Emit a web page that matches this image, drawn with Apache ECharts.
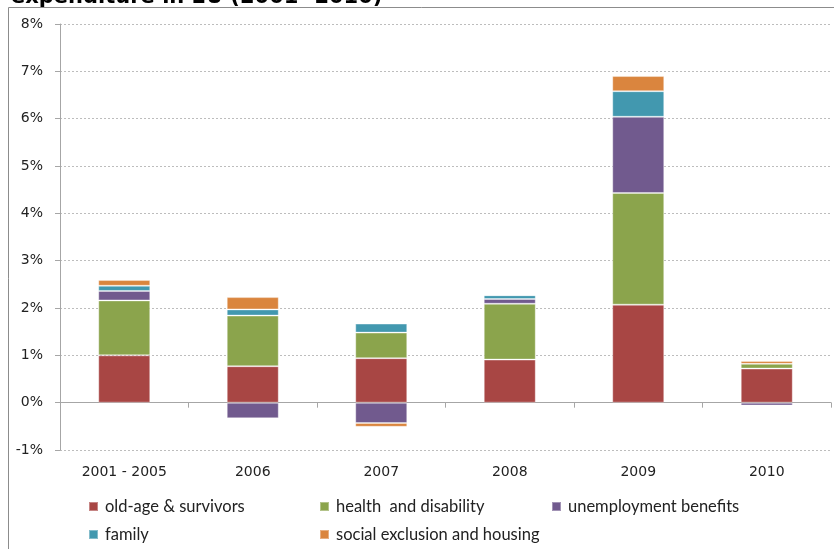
<!DOCTYPE html>
<html><head><meta charset="utf-8">
<script src="https://cdn.jsdelivr.net/npm/echarts@6/dist/echarts.min.js"></script>
<style>html,body{margin:0;padding:0;background:#fff}#c{width:834px;height:549px}</style>
</head><body><div id="c"></div>
<script>
const categories = ['2001 - 2005', '2006', '2007', '2008', '2009', '2010'];
const oldAge = [1.00, 0.77, 0.94, 0.91, 2.07, 0.72];
const health = [1.16, 1.07, 0.54, 1.18, 2.36, 0.10];
const unemployment = [0.20, -0.33, -0.43, 0.10, 1.61, -0.06];
const family = [0.11, 0.13, 0.19, 0.08, 0.54, 0.00];
const social = [0.12, 0.26, -0.08, 0.00, 0.32, 0.06];
const seriesNames = ['old-age & survivors', 'health  and disability', 'unemployment benefits', 'family', 'social exclusion and housing'];
const colors = ['#A84644', '#8BA44C', '#715A8E', '#4298AF', '#DA853E'];
const yTicks = {min: -1, max: 8, interval: 1};

const data = [oldAge, health, unemployment, family, social];
const chart = echarts.init(document.getElementById('c'));
const legendPos = [[88, 498], [319, 498], [551, 498], [88, 526], [319, 526]];
const legends = seriesNames.map((n, i) => ({
  data: [n], left: legendPos[i][0], top: legendPos[i][1], padding: 0,
  icon: 'rect', itemWidth: 9, itemHeight: 9, selectedMode: false,
  textStyle: {fontFamily: 'Lato', fontSize: 16.5, color: '#222', padding: [0, 0, 0, 2]}
}));
chart.setOption({
  animation: false,
  color: colors,
  title: {text: 'expenditure in EU (2001- 2010)', left: 6, top: -18,
    textStyle: {fontFamily: 'DejaVu Sans', fontWeight: 'bold', fontSize: 21, color: '#000'}},
  graphic: [{type: 'rect', shape: {x: 8.5, y: 7.5, width: 900, height: 700},
    style: {fill: 'none', stroke: '#8c8c8c', lineWidth: 1}, silent: true}],
  legend: legends,
  grid: {left: 60, right: 3, top: 24, bottom: 99},
  xAxis: {type: 'category', data: categories,
    axisLine: {onZero: true, lineStyle: {color: '#a6a6a6'}},
    axisTick: {show: true, length: 5, lineStyle: {color: '#a6a6a6'}},
    axisLabel: {margin: 15, fontFamily: 'DejaVu Sans', fontSize: 14, color: '#222'}},
  yAxis: {type: 'value', min: yTicks.min, max: yTicks.max, interval: yTicks.interval,
    axisLine: {show: true, lineStyle: {color: '#a6a6a6'}},
    axisTick: {show: true, length: 5, lineStyle: {color: '#a6a6a6'}},
    axisLabel: {formatter: '{value}%', margin: 17, fontFamily: 'DejaVu Sans', fontSize: 14, color: '#222'},
    splitLine: {lineStyle: {color: '#bdbdbd', type: [2, 2]}}},
  series: seriesNames.map((n, i) => ({
    name: n, type: 'bar', stack: 'total', barWidth: 52,
    itemStyle: {color: colors[i], borderColor: 'rgba(255,255,255,0.35)', borderWidth: 1},
    data: data[i]
  }))
});
</script></body></html>
